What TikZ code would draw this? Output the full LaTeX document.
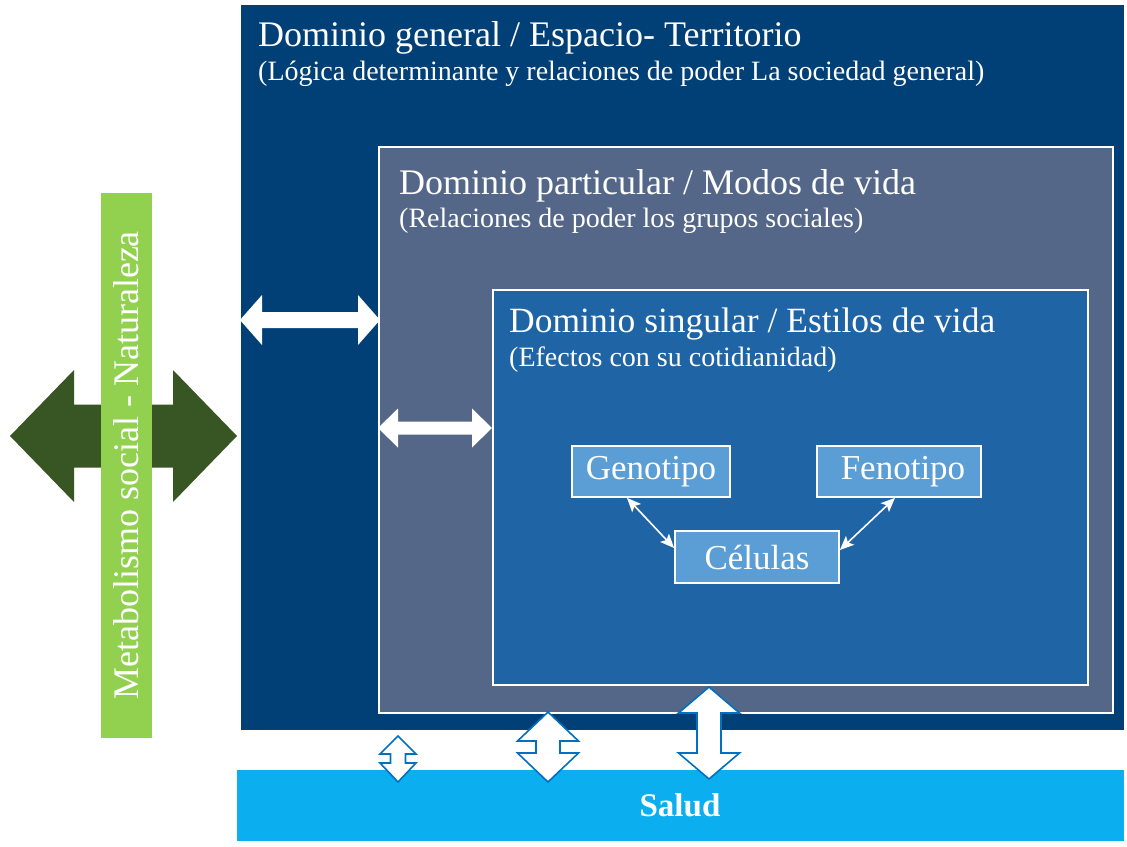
\documentclass[tikz,border=0pt]{standalone}
\usepackage{fontspec}
\setmainfont{Liberation Serif}
\usetikzlibrary{arrows.meta}
\definecolor{outerblue}{RGB}{0,64,119}
\definecolor{slate}{RGB}{84,103,137}
\definecolor{singblue}{RGB}{31,100,165}
\definecolor{cellblue}{RGB}{91,157,213}
\definecolor{barGreen}{RGB}{146,208,80}
\definecolor{darkGreen}{RGB}{55,86,35}
\definecolor{saludblue}{RGB}{11,175,240}
\definecolor{arrowline}{RGB}{0,112,192}
\newcommand{\myharrow}[7]{\path[#7] (#1,#3) -- ({#1+#4},{#3-#5}) -- ({#1+#4},{#3-#6}) -- ({#2-#4},{#3-#6}) -- ({#2-#4},{#3-#5}) -- (#2,#3) -- ({#2-#4},{#3+#5}) -- ({#2-#4},{#3+#6}) -- ({#1+#4},{#3+#6}) -- ({#1+#4},{#3+#5}) -- cycle;}
\newcommand{\myvarrow}[8]{\path[#8] (#1,#2) -- ({#1+#6},{#2+#4}) -- ({#1+#7},{#2+#4}) -- ({#1+#7},{#3-#5}) -- ({#1+#6},{#3-#5}) -- (#1,#3) -- ({#1-#6},{#3-#5}) -- ({#1-#7},{#3-#5}) -- ({#1-#7},{#2+#4}) -- ({#1-#6},{#2+#4}) -- cycle;}
\tikzset{
  panel/.style={anchor=north west, inner sep=0pt, outer sep=0pt},
  smallbox/.style={draw=white, line width=1.8pt, fill=cellblue, minimum width=158pt, minimum height=51pt, inner sep=0pt, text=white, font=\fontsize{35}{38}\selectfont},
  titletext/.style={anchor=base west, text=white, inner sep=0pt, font=\fontsize{36}{40}\selectfont},
  subtext/.style={anchor=base west, text=white, inner sep=0pt, font=\fontsize{28}{32}\selectfont},
  whitearrow/.style={fill=white},
  outlinearrow/.style={fill=white, draw=arrowline, line width=1.6pt, line join=miter},
  thinarrow/.style={white, line width=1.6pt, {Stealth[length=14pt,width=12pt,inset=3pt]}-{Stealth[length=14pt,width=12pt,inset=3pt]}}
}
\begin{document}
\begin{tikzpicture}[x=1pt,y=-1pt]
\useasboundingbox[fill=white] (0,0) rectangle (1127,846);
% outer domain
\node[panel, fill=outerblue, minimum width=883pt, minimum height=725pt] (general) at (241,5) {};
\node[panel, fill=slate, draw=white, line width=1.8pt, minimum width=734pt, minimum height=566pt] (particular) at (379,147) {};
\node[panel, fill=singblue, draw=white, line width=1.8pt, minimum width=595pt, minimum height=395pt] (singular) at (493,290) {};
% titles
\node[titletext] (tg) at (258,46) {Dominio general / Espacio- Territorio};
\node[subtext] (sg) at (258,80) {(Lógica determinante y relaciones de poder La sociedad general)};
\node[titletext] (tp) at (399,194) {Dominio particular / Modos de vida};
\node[subtext] (sp) at (399,227) {(Relaciones de poder los grupos sociales)};
\node[titletext, font=\fontsize{35.5}{40}\selectfont] (ts) at (509,332) {Dominio singular / Estilos de vida};
\node[subtext] (ss) at (509,366) {(Efectos con su cotidianidad)};
% small boxes
\node[smallbox] (geno) at (651,471.5) {Genotipo};
\node[smallbox, minimum width=164pt] (feno) at (899,471.5) {\hspace{8pt}Fenotipo};
\node[smallbox, minimum width=164pt, minimum height=52pt] (cel) at (757,557) {Células};
\draw[thinarrow] ([xshift=-24pt]geno.south) -- ([yshift=9pt]cel.west);
\draw[thinarrow] ([xshift=-4pt]feno.south) -- ([yshift=7pt]cel.east);
% white horizontal arrows
\myharrow{240}{380}{320}{22}{25}{8}{whitearrow}
\myharrow{378}{492}{428}{20}{19.5}{6.5}{whitearrow}
% dark green arrow and green bar
\myharrow{10}{237}{436}{64}{66}{31.5}{fill=darkGreen}
\node[panel, fill=barGreen, minimum width=51pt, minimum height=545pt] (bar) at (101,193) {};
\node[rotate=90, text=white, inner sep=0pt, font=\fontsize{36}{40}\selectfont] (bartext) at (bar.center) {Metabolismo social - Naturaleza};
% salud
\node[panel, fill=saludblue, minimum width=887pt, minimum height=71pt] (salud) at (237,770) {};
\node[text=white, font=\bfseries\fontsize{33}{36}\selectfont, inner sep=0pt] (saludtext) at (680,805) {Salud};
% vertical outline arrows
\myvarrow{398}{736}{782}{18}{19}{18}{7.5}{outlinearrow}
\myvarrow{548}{712}{782}{29}{29}{30.5}{12}{outlinearrow}
\myvarrow{709}{687}{779}{26}{26}{30.5}{12}{outlinearrow}
\end{tikzpicture}
\end{document}
